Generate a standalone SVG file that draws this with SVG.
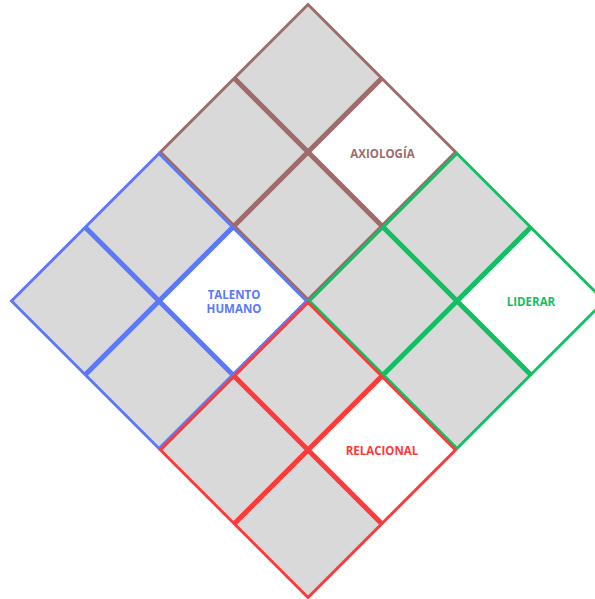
<svg xmlns="http://www.w3.org/2000/svg" xmlns:xlink="http://www.w3.org/1999/xlink" width="595" height="599" viewBox="0 0 595 599">
<defs>
<style>
.c{stroke-width:2.9;stroke-linejoin:miter}
.g{fill:#d9d9d9}
.w{fill:#ffffff}
.br{stroke:#9e6b6b}
.bl{stroke:#5b78fb}
.gr{stroke:#12bf62}
.rd{stroke:#fd3a3a}
text{font-family:"Open Sans","Liberation Sans",sans-serif;font-weight:700;font-size:11.5px;text-anchor:middle;dominant-baseline:central}
</style>
<path id="d" d="M0,-73 L73,0 L0,73 L-73,0 Z"/>
</defs>
<rect width="595" height="599" fill="#ffffff"/>
<g id="axiologia">
<use xlink:href="#d" class="c g br" x="308" y="77.5"/>
<use xlink:href="#d" class="c g br" x="233.5" y="152"/>
<use xlink:href="#d" class="c g br" x="308" y="226.5"/>
<use xlink:href="#d" class="c w br" x="382.5" y="152"/>
<text x="382.5" y="153" fill="#9e6b6b">AXIOLOGÍA</text>
</g>
<g id="talento-humano">
<use xlink:href="#d" class="c g bl" x="159" y="226.5"/>
<use xlink:href="#d" class="c g bl" x="84.5" y="301"/>
<use xlink:href="#d" class="c g bl" x="159" y="375.5"/>
<use xlink:href="#d" class="c w bl" x="233.5" y="301"/>
<text x="234" y="294" fill="#5b78fb">TALENTO</text>
<text x="234" y="308" fill="#5b78fb">HUMANO</text>
</g>
<g id="liderar">
<use xlink:href="#d" class="c g gr" x="457" y="226.5"/>
<use xlink:href="#d" class="c g gr" x="382.5" y="301"/>
<use xlink:href="#d" class="c g gr" x="457" y="375.5"/>
<use xlink:href="#d" class="c w gr" x="531.5" y="301"/>
<text x="531" y="301" fill="#12bf62">LIDERAR</text>
</g>
<g id="relacional">
<use xlink:href="#d" class="c g rd" x="308" y="375.5"/>
<use xlink:href="#d" class="c g rd" x="233.5" y="450"/>
<use xlink:href="#d" class="c g rd" x="308" y="524.5"/>
<use xlink:href="#d" class="c w rd" x="382.5" y="450"/>
<text x="382" y="450" fill="#fd3a3a">RELACIONAL</text>
</g>
<g id="connectors"/>
</svg>
